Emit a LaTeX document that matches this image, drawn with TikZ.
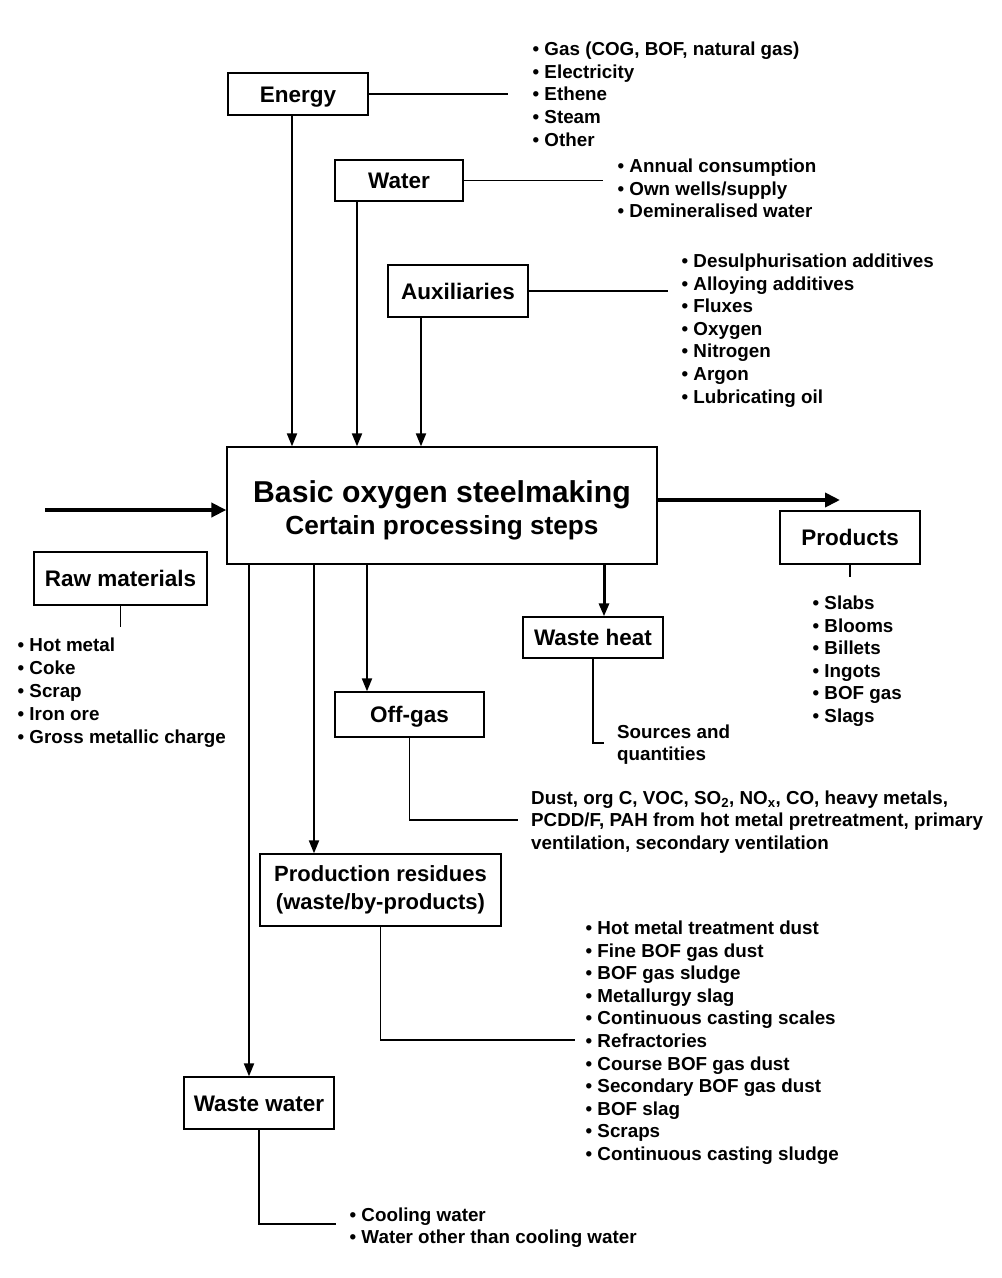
\documentclass[tikz,border=0pt]{standalone}
\usepackage{fontspec}
\setmainfont{Liberation Sans}
\usetikzlibrary{arrows.meta}
\begin{document}
\begin{tikzpicture}[x=1pt,y=-1pt,
  box/.style={draw, line width=1.3pt, inner sep=0pt, align=center,
    font=\bfseries\fontsize{22.5}{27}\selectfont, text height=16.2pt, text depth=0pt},
  item/.style={anchor=base west, inner sep=0pt, font=\bfseries\fontsize{18.8}{22}\selectfont},
  conn/.style={line width=1.5pt},
  arr/.style={line width=2pt, -{Triangle[length=13pt,width=10pt]}},
  bigarr/.style={line width=4.5pt, -{Triangle[length=15pt,width=14pt]}},
]
\path[use as bounding box] (0,0) rectangle (1002,1278);

% boxes
\node[box, minimum width=140pt, minimum height=42pt] (energy) at (298,94) {Energy};
\node[box, minimum width=128pt, minimum height=41pt] (water) at (399,180.5) {Water};
\node[box, minimum width=140pt, minimum height=52pt] (aux) at (458,291) {Auxiliaries};
\node[box, minimum width=430pt, minimum height=117pt] (main) at (442,505.5) {};
\node[anchor=base, inner sep=0pt, font=\bfseries\fontsize{30.2}{34}\selectfont] (maint1) at (442,502) {Basic oxygen steelmaking};
\node[anchor=base, inner sep=0pt, font=\bfseries\fontsize{26.2}{30}\selectfont] (maint2) at (442,534.5) {Certain processing steps};
\node[box, minimum width=140pt, minimum height=53pt] (products) at (850,537.5) {Products};
\node[box, minimum width=173pt, minimum height=53pt] (raw) at (120.5,578.5) {Raw materials};
\node[box, minimum width=140pt, minimum height=41pt] (wasteheat) at (593,637.5) {Waste heat};
\node[box, minimum width=149pt, minimum height=45pt] (offgas) at (409.5,714.5) {Off-gas};
\node[box, minimum width=241pt, minimum height=72pt, text height=, text depth=, font=\bfseries\fontsize{22}{28}\selectfont] (prodres) at (380.5,890) {Production residues\\(waste/by-products)};
\node[box, minimum width=150pt, minimum height=52pt] (wastewater) at (259,1103) {Waste water};

% input arrows
\draw[arr] ([xshift=-6pt]energy.south) -- ([xshift=-150pt]main.north);
\draw[arr] ([xshift=-42pt]water.south) -- ([xshift=-85pt]main.north);
\draw[arr] ([xshift=-37pt]aux.south) -- ([xshift=-21pt]main.north);

% big arrows
\coordinate (leftstart) at (45,510);
\coordinate (rightend) at (840,500);
\draw[bigarr] (leftstart) -- (main.west |- leftstart);
\draw[bigarr] (main.east |- rightend) -- (rightend);

% output arrows
\draw[arr] ([xshift=-193pt]main.south) -- ([xshift=-10pt]wastewater.north);
\draw[arr] ([xshift=-128pt]main.south) -- ([xshift=-66.5pt]prodres.north);
\draw[arr] ([xshift=-75pt]main.south) -- ([xshift=-42.5pt]offgas.north);
\draw[arr, line width=3pt] ([xshift=162pt]main.south) -- ([xshift=11pt]wasteheat.north);

% connectors
\coordinate (energyend) at (508,94);
\coordinate (waterend) at (603,180.5);
\coordinate (auxend) at (668,291);
\coordinate (prodend) at (850,577);
\coordinate (rawend) at (120.5,627);
\coordinate (whend) at (604,743);
\coordinate (ogend) at (518,820);
\coordinate (prend) at (575,1040);
\coordinate (wwend) at (336,1224);
\draw[conn] (energy.east) -- (energyend);
\draw[conn] (water.east) -- (waterend);
\draw[conn] (aux.east) -- (auxend);
\draw[conn] (products.south) -- (prodend);
\draw[conn] (raw.south) -- (rawend);
\draw[conn] (wasteheat.south) |- (whend);
\draw[conn] (offgas.south) |- (ogend);
\draw[conn] (prodres.south) |- (prend);
\draw[conn] (wastewater.south) |- (wwend);

% lists
\foreach \t [count=\i] in {{Gas (COG, BOF, natural gas)},Electricity,Ethene,Steam,Other}
  \node[item] (en\i) at (532.5,{55.5+22.7*(\i-1)}) {• \t};
\foreach \t [count=\i] in {Annual consumption,Own wells/supply,Demineralised water}
  \node[item] (wa\i) at (617.5,{172.5+22.5*(\i-1)}) {• \t};
\foreach \t [count=\i] in {Desulphurisation additives,Alloying additives,Fluxes,Oxygen,Nitrogen,Argon,Lubricating oil}
  \node[item] (au\i) at (681.5,{267.5+22.6*(\i-1)}) {• \t};
\foreach \t [count=\i] in {Slabs,Blooms,Billets,Ingots,BOF gas,Slags}
  \node[item] (pr\i) at (812.5,{609.5+22.6*(\i-1)}) {• \t};
\foreach \t [count=\i] in {Hot metal,Coke,Scrap,Iron ore,Gross metallic charge}
  \node[item] (ra\i) at (17.5,{651.5+22.9*(\i-1)}) {• \t};
\foreach \t [count=\i] in {Hot metal treatment dust,Fine BOF gas dust,BOF gas sludge,Metallurgy slag,Continuous casting scales,Refractories,Course BOF gas dust,Secondary BOF gas dust,BOF slag,Scraps,Continuous casting sludge}
  \node[item] (re\i) at (585.5,{934.5+22.6*(\i-1)}) {• \t};
\foreach \t [count=\i] in {Cooling water,Water other than cooling water}
  \node[item] (ww\i) at (349.5,{1221.5+22*(\i-1)}) {• \t};

\node[item] (src1) at (617,738.5) {Sources and};
\node[item] (src2) at (617,760.5) {quantities};
\node[item] (og1) at (531,804.5) {Dust, org C, VOC, SO\textsubscript{2}, NO\textsubscript{x}, CO, heavy metals,};
\node[item] (og2) at (531,826.5) {PCDD/F, PAH from hot metal pretreatment, primary};
\node[item] (og3) at (531,849.5) {ventilation, secondary ventilation};
\end{tikzpicture}
\end{document}
